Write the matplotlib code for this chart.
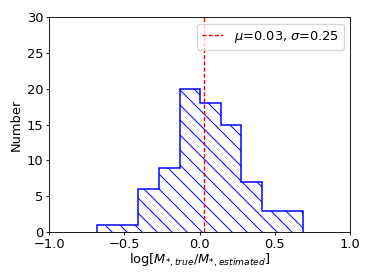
import matplotlib
matplotlib.use("Agg")
import matplotlib.pyplot as plt

bin_edges = [-0.68, -0.543, -0.406, -0.269, -0.132, 0.005, 0.142, 0.279, 0.416, 0.553, 0.69]
counts = [1, 1, 6, 9, 20, 18, 15, 7, 3, 3]
mu = 0.03
sigma = 0.25

DPI = 90
FS = 10.4
plt.rcParams['hatch.linewidth'] = 0.8
plt.rcParams['xtick.major.size'] = 2.5
plt.rcParams['ytick.major.size'] = 2.5
plt.rcParams['xtick.major.width'] = 0.7
plt.rcParams['ytick.major.width'] = 0.7
plt.rcParams['axes.linewidth'] = 0.7

fig = plt.figure(figsize=(374/DPI, 280/DPI), dpi=DPI)
ax = fig.add_axes([49/374, 1-232/280, 301/374, 215/280])

ax.hist(bin_edges[:-1], bins=bin_edges, weights=counts, histtype='step',
        color='blue', hatch='\\\\', linewidth=1.2)
ax.axvline(mu, color='red', linestyle=(0, (3, 1.5)), linewidth=1.1,
           label=r'$\mu$=%.2f, $\sigma$=%.2f' % (mu, sigma))
ax.set_xlim(-1, 1)
ax.set_ylim(0, 30)
ax.set_xticks([-1.0, -0.5, 0.0, 0.5, 1.0])
ax.set_yticks([0, 5, 10, 15, 20, 25, 30])
ax.tick_params(labelsize=FS, pad=2)
ax.set_xlabel(r'log[$M_{*,true}/M_{*,estimated}$]', fontsize=FS, labelpad=1)
ax.set_ylabel('Number', fontsize=FS, labelpad=3)
ax.legend(loc='upper right', fontsize=FS, handlelength=1.6)
fig.savefig('out.png', dpi=DPI)
